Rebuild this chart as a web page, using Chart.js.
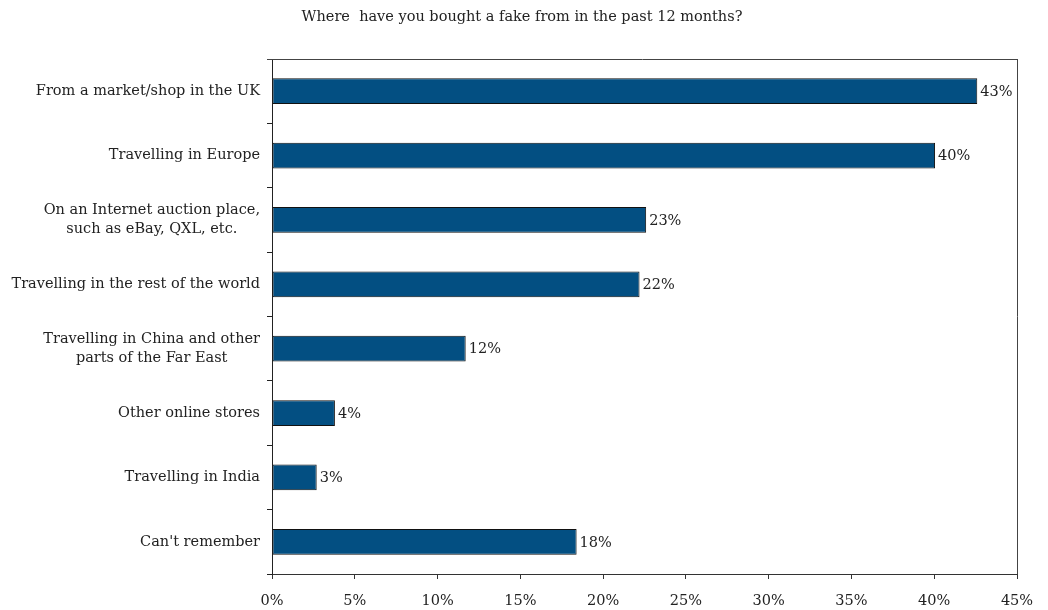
<!DOCTYPE html>
<html>
<head>
<meta charset="utf-8">
<script src="https://cdn.jsdelivr.net/npm/chart.js@4/dist/chart.umd.min.js"></script>
<style>
  html, body { margin: 0; padding: 0; background: #fff; }
  #wrap { width: 1048px; height: 610px; position: relative; }
</style>
</head>
<body>
<div id="wrap"><canvas id="fakeChart"></canvas></div>
<script>
// Where fakes were bought (share of respondents, %)
const places = [
    'From a market/shop in the UK',
    'Travelling in Europe',
    ['On an Internet auction place,', 'such as eBay, QXL, etc.'],
    'Travelling in the rest of the world',
    ['Travelling in China and other', 'parts of the Far East'],
    'Other online stores',
    'Travelling in India',
    "Can't remember"
];
const shares = [42.6, 40.05, 22.6, 22.2, 11.7, 3.8, 2.7, 18.4];
const xTicks = [0, 5, 10, 15, 20, 25, 30, 35, 40, 45];
const titleText = 'Where  have you bought a fake from in the past 12 months?';

const serif = '"DejaVu Serif", "Liberation Serif", serif';
const fontSize = 14.5;

// title, category names (lines centred on each other), value labels, top/right frame
const extras = {
    id: 'extras',
    afterDatasetsDraw(chart) {
        const ctx = chart.ctx;
        const area = chart.chartArea;
        const yScale = chart.scales.y;
        ctx.save();
        ctx.lineWidth = 1;
        ctx.strokeStyle = '#444';
        ctx.beginPath();
        ctx.moveTo(area.left - 5, area.top + 0.5);
        ctx.lineTo(area.right + 1, area.top + 0.5);
        ctx.moveTo(area.right + 0.5, area.top);
        ctx.lineTo(area.right + 0.5, area.bottom);
        ctx.stroke();

        ctx.font = fontSize + 'px ' + serif;
        ctx.fillStyle = '#222';
        ctx.textBaseline = 'middle';

        ctx.textAlign = 'center';
        ctx.fillText(titleText, 522, 17);

        // value labels
        ctx.textAlign = 'left';
        chart.getDatasetMeta(0).data.forEach((bar, i) => {
            ctx.fillText(Math.round(shares[i]) + '%', bar.x + 3, bar.y + 1);
        });

        // category labels
        const lineH = 19;
        const rightEdge = area.left - 12;
        places.forEach((label, i) => {
            const lines = Array.isArray(label) ? label : [label];
            const cy = yScale.getPixelForValue(i);
            const widest = Math.max(...lines.map(l => ctx.measureText(l).width));
            const centreX = rightEdge - widest / 2;
            ctx.textAlign = 'center';
            lines.forEach((line, k) => {
                const y = cy + (k - (lines.length - 1) / 2) * lineH;
                ctx.fillText(line, centreX, y);
            });
        });
        ctx.restore();
    }
};

const ctx = document.getElementById('fakeChart').getContext('2d');
new Chart(ctx, {
    type: 'bar',
    data: {
        labels: places,
        datasets: [{
            data: shares,
            backgroundColor: '#034f82',
            borderColor: '#111',
            borderWidth: 1,
            borderSkipped: false,
            categoryPercentage: 0.4,
            barPercentage: 1
        }]
    },
    plugins: [extras],
    options: {
        indexAxis: 'y',
        responsive: true,
        maintainAspectRatio: false,
        animation: false,
        layout: {
            padding: { top: 59, right: 31, bottom: 0, left: 0 }
        },
        plugins: {
            legend: { display: false },
            tooltip: { enabled: false },
            title: { display: false }
        },
        scales: {
            x: {
                min: 0,
                max: 45,
                afterBuildTicks: scale => {
                    scale.ticks = xTicks.map(v => ({ value: v }));
                },
                afterFit: scale => { scale.height = 36; },
                ticks: {
                    color: '#222',
                    font: { family: serif, size: fontSize },
                    padding: 14,
                    callback: value => value + '%'
                },
                grid: {
                    drawOnChartArea: false,
                    tickLength: 5,
                    color: '#333'
                },
                border: { color: '#333', width: 1 }
            },
            y: {
                afterFit: scale => { scale.width = 272; },
                ticks: { display: false },
                grid: {
                    offset: true,
                    drawOnChartArea: false,
                    tickLength: 5,
                    color: '#222'
                },
                border: { color: '#222', width: 1 }
            }
        }
    }
});
</script>
</body>
</html>
